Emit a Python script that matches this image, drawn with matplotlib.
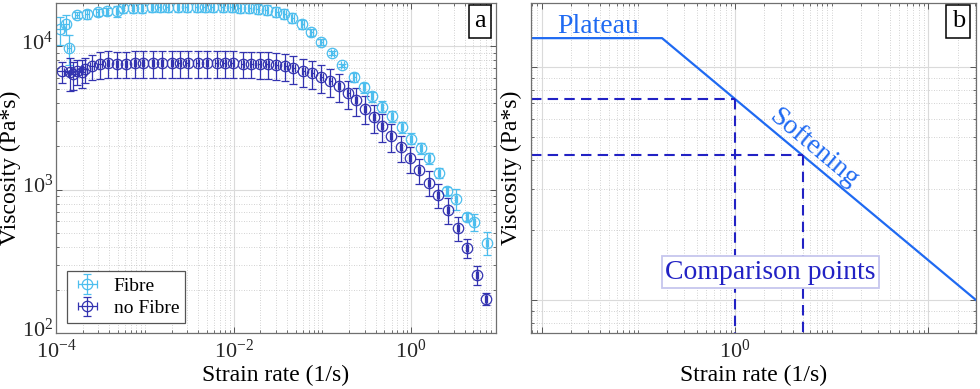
import numpy as np
import matplotlib
matplotlib.use('Agg')
import matplotlib.pyplot as plt
import matplotlib.transforms as mtransforms
from matplotlib.ticker import FixedLocator, LogLocator, NullFormatter, FuncFormatter

plt.rcParams['font.family'] = ['Liberation Serif', 'DejaVu Serif']
plt.rcParams['mathtext.fontset'] = 'custom'
plt.rcParams['mathtext.rm'] = 'Liberation Serif'

#%% data, panel a
fibre_rate = [1.11e-4, 1.30e-4, 1.40e-4, 1.72e-4, 2.23e-4, 2.96e-4, 3.74e-4, 4.84e-4,
              5.66e-4, 7.33e-4, 9.25e-4, 1.20e-3, 1.47e-3, 1.81e-3, 2.35e-3, 2.96e-3,
              3.84e-3, 4.72e-3, 5.81e-3, 7.52e-3, 9.5e-3, 1.17e-2, 1.51e-2, 1.86e-2,
              2.35e-2, 3.04e-2, 3.74e-2, 4.60e-2, 5.96e-2, 7.52e-2, 9.75e-2, 0.1295,
              0.168, 0.229, 0.296, 0.365, 0.472, 0.612, 0.792, 1.0, 1.30, 1.59, 2.07,
              2.54, 3.21, 4.26, 5.10, 7.14]
fibre_visc = [13150, 14250, 9690, 16480, 16750, 17300, 17570, 17570,
              18450, 18450, 18580, 18700, 18800, 18750, 18800, 18850, 18800,
              18800, 18750, 18700, 18700, 18580, 18450, 18160, 17870, 17420,
              16750, 15700, 14250, 12530, 10660, 8930, 7360, 6070, 5160, 4470,
              3800, 3240, 2720, 2270, 1940, 1650, 1315, 984, 865, 647, 597, 426]
fibre_err = [0.22, 0.16, 0.23, 0.05, 0.07, 0.06, 0.06, 0.09,
             0.08, 0.08, 0.08, 0.08, 0.08, 0.08, 0.08, 0.08, 0.08, 0.08, 0.08,
             0.08, 0.08, 0.08, 0.08, 0.08, 0.08, 0.08, 0.08, 0.08, 0.07, 0.06,
             0.05, 0.03, 0.03, 0.07, 0.08, 0.08, 0.09, 0.09, 0.09, 0.09, 0.09,
             0.09, 0.08, 0.065, 0.17, 0.065, 0.14, 0.18]
fibre_xerr = [0.10, 0.08, 0.06, 0.05, 0.05, 0.04]

nofibre_rate = [1.17e-4, 1.44e-4, 1.55e-4, 1.72e-4, 1.96e-4, 2.12e-4, 2.54e-4, 3.12e-4,
                3.84e-4, 4.84e-4, 6.12e-4, 7.72e-4, 9.5e-4, 1.23e-3, 1.55e-3, 2.01e-3,
                2.47e-3, 3.04e-3, 3.94e-3, 4.98e-3, 6.44e-3, 7.93e-3, 9.75e-3, 1.26e-2,
                1.59e-2, 1.96e-2, 2.41e-2, 3.04e-2, 3.84e-2, 4.72e-2, 6.12e-2, 7.72e-2,
                9.75e-2, 0.123, 0.155, 0.196, 0.241, 0.304, 0.384, 0.472, 0.596, 0.772,
                0.975, 1.23, 1.59, 2.01, 2.61, 3.37, 4.26, 5.52, 6.97]
nofibre_visc = [6680, 6580, 6370, 6680, 6580, 6900, 7250, 7480, 7600, 7570,
                7570, 7600, 7600, 7620, 7620, 7620, 7620, 7620, 7620, 7620, 7620,
                7600, 7600, 7580, 7550, 7520, 7480, 7360, 7250, 7020, 6680, 6470,
                6070, 5690, 5250, 4690, 4190, 3680, 3190, 2760, 2350, 1970, 1650,
                1360, 1120, 922, 725, 542, 393, 255, 173]
nofibre_err = [0.17, 0.26, 0.22, 0.20, 0.22, 0.20, 0.20, 0.21, 0.21, 0.21,
               0.21, 0.21, 0.21, 0.21, 0.21, 0.21, 0.21, 0.21, 0.21, 0.21, 0.21,
               0.21, 0.21, 0.21, 0.21, 0.21, 0.21, 0.21, 0.21, 0.22, 0.22, 0.22,
               0.22, 0.22, 0.22, 0.22, 0.22, 0.22, 0.22, 0.22, 0.22, 0.21, 0.21,
               0.20, 0.20, 0.19, 0.20, 0.19, 0.15, 0.15, 0.10]
nofibre_xerr = [0.25, 0.15, 0.10, 0.10, 0.08, 0.06, 0.05, 0.05]

#%% data, panel b (schematic)
model_rate = [0.00777, 0.176, 310]
model_visc = [13300, 13300, 1000]
compare_rate = [1.0, 5.0]

c_fibre = '#4dbeee'
c_nofibre = '#3333b0'
c_model = '#1f6af2'
c_dash = '#2222c4'


def rel_to_abs(vals, rel, n_default=0.03):
    rel = list(rel) + [n_default] * (len(vals) - len(rel))
    return np.array(vals) * np.array(rel)


def style_axes(ax):
    ax.tick_params(which='both', direction='in', top=True, right=True,
                   color='#555555', labelcolor='#262626', labelsize=16)
    ax.tick_params(axis='x', pad=5)
    ax.tick_params(axis='y', pad=2)
    ax.tick_params(which='major', length=4, width=0.7)
    ax.tick_params(which='minor', length=2.2, width=0.6)
    ax.grid(True, which='major', color='#dadada', lw=0.8, ls='-')
    ax.grid(True, which='minor', color='#c4c4c4', lw=0.6, ls=(0, (1, 2)))
    ax.set_axisbelow(True)
    for s in ax.spines.values():
        s.set_color('#707070')
        s.set_linewidth(0.9)


def dec_fmt(keep):
    def f(v, pos):
        e = int(round(np.log10(v)))
        if e in keep:
            return r'$\mathdefault{10^{%d}}$' % e
        return ''
    return FuncFormatter(f)


fig = plt.figure(figsize=(9.8, 3.89), dpi=100)

#%% panel a
ax1 = fig.add_axes([0.0571, 0.144, 0.449, 0.848])
ax1.set_xscale('log')
ax1.set_yscale('log')
ax1.errorbar(fibre_rate, fibre_visc, yerr=rel_to_abs(fibre_visc, fibre_err),
             xerr=rel_to_abs(fibre_rate, fibre_xerr),
             fmt='o', mfc='none', mec=c_fibre, color=c_fibre, ms=7.5, mew=0.9,
             elinewidth=0.9, capsize=3, capthick=0.9, label='Fibre')
ax1.errorbar(nofibre_rate, nofibre_visc, yerr=rel_to_abs(nofibre_visc, nofibre_err),
             xerr=rel_to_abs(nofibre_rate, nofibre_xerr),
             fmt='o', mfc='none', mec=c_nofibre, color=c_nofibre, ms=7.5, mew=0.9,
             elinewidth=0.9, capsize=3, capthick=0.9, label='no Fibre')
ax1.set_xlim(1e-4, 9)
ax1.set_ylim(100, 2e4)
ax1.xaxis.set_major_locator(FixedLocator([1e-4, 1e-2, 1]))
ax1.xaxis.set_minor_locator(LogLocator(base=10, subs=np.arange(1, 10), numticks=20))
ax1.xaxis.set_minor_formatter(NullFormatter())
ax1.xaxis.set_major_formatter(dec_fmt([-4, -2, 0]))
ax1.yaxis.set_major_locator(FixedLocator([1e2, 1e3, 1e4]))
ax1.yaxis.set_minor_locator(LogLocator(base=10, subs=np.arange(2, 10), numticks=20))
ax1.yaxis.set_minor_formatter(NullFormatter())
ax1.yaxis.set_major_formatter(dec_fmt([2, 3, 4]))
style_axes(ax1)
# lift y tick labels so the digits sit on the grid line, like the original
shift = mtransforms.ScaledTranslation(0, 4 / 72, fig.dpi_scale_trans)
for lab in ax1.get_yticklabels():
    lab.set_transform(lab.get_transform() + shift)
ax1.set_xlabel('Strain rate (1/s)', fontsize=17, labelpad=1)
ax1.set_ylabel('Viscosity (Pa*s)', fontsize=17, labelpad=0)
leg = ax1.legend(loc='lower left', bbox_to_anchor=(0.025, 0.03), borderaxespad=0,
                 fontsize=14, fancybox=False, edgecolor='#555555', framealpha=1,
                 handlelength=1.5, handletextpad=0.6, borderpad=0.3, labelspacing=0.25)
leg.get_frame().set_linewidth(0.9)
ax1.text(0.964, 0.945, 'a', transform=ax1.transAxes, fontsize=19, ha='center', va='center',
         bbox=dict(boxstyle='square,pad=0.2', fc='white', ec='black', lw=1.1))

#%% panel b
ax2 = fig.add_axes([0.5418, 0.144, 0.4541, 0.848])
ax2.set_xscale('log')
ax2.set_yscale('log')
ax2.plot(model_rate, model_visc, color=c_model, lw=1.6)
lx, ly = np.log10(model_rate), np.log10(model_visc)
for r in compare_rate:
    v = 10 ** np.interp(np.log10(r), lx, ly)
    ax2.plot([model_rate[0], r], [v, v], color=c_dash, lw=1.5, ls=(0, (5, 3)))
    ax2.plot([r, r], [v, 722], color=c_dash, lw=1.5, ls=(0, (5, 3)))
ax2.set_xlim(model_rate[0], model_rate[-1])
ax2.set_ylim(722, 18800)
ax2.xaxis.set_major_locator(FixedLocator([1e-2, 1, 1e2]))
ax2.xaxis.set_minor_locator(LogLocator(base=10, subs=np.arange(1, 10), numticks=20))
ax2.xaxis.set_minor_formatter(NullFormatter())
ax2.xaxis.set_major_formatter(dec_fmt([0]))
ax2.yaxis.set_major_locator(FixedLocator([1e3, 1e4]))
ax2.yaxis.set_minor_locator(LogLocator(base=10, subs=np.arange(2, 10), numticks=20))
ax2.yaxis.set_minor_formatter(NullFormatter())
ax2.yaxis.set_major_formatter(NullFormatter())
style_axes(ax2)
ax2.set_xlabel('Strain rate (1/s)', fontsize=17, labelpad=1)
ax2.set_ylabel('Viscosity (Pa*s)', fontsize=17, labelpad=3)

ax2.text(0.15, 0.93, 'Plateau', transform=ax2.transAxes, fontsize=20,
         color=c_model, ha='center', va='center')
ax2.text(0.636, 0.56, 'Softening', transform=ax2.transAxes, fontsize=20,
         color=c_model, ha='center', va='center', rotation=-40, rotation_mode='anchor')
ax2.text(0.538, 0.184, 'Comparison points', transform=ax2.transAxes, fontsize=20,
         color=c_dash, ha='center', va='center',
         bbox=dict(boxstyle='square,pad=0.12', fc='white', ec='#c6c6ee', lw=1.3))
ax2.text(0.96, 0.945, 'b', transform=ax2.transAxes, fontsize=19, ha='center', va='center',
         bbox=dict(boxstyle='square,pad=0.2', fc='white', ec='black', lw=1.1))

plt.savefig('out.png', dpi=100)
